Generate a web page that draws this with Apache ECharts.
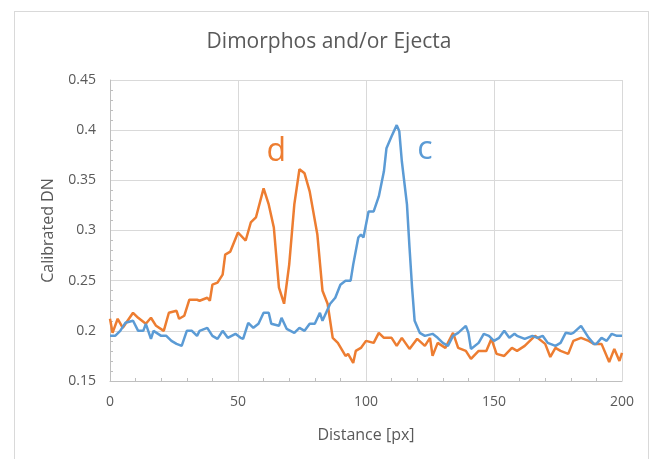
<!DOCTYPE html>
<html><head><meta charset="utf-8">
<script src="https://cdn.jsdelivr.net/npm/echarts@6/dist/echarts.min.js"></script>
<style>html,body{margin:0;padding:0;background:#fff}#c{width:658px;height:459px}
#frame{position:absolute;left:14px;top:11px;width:633px;height:460px;border:1px solid #d9d9d9;pointer-events:none}</style>
</head><body><div id="c"></div><div id="frame"></div>
<script>
const title = 'Dimorphos and/or Ejecta';
const xName = 'Distance [px]';
const yName = 'Calibrated DN';
const dX = [0,1,3,5,9,11,14,16,18,21,23,26,27,29,31,34,35,38,39,40,42,44,45,47,50,53,55,57,60,62,64,66,68,70,72,74,76,78,81,83,85,87,89,92,93,95,96,98,100,103,105,107,110,112,114,117,120,123,125,126,128,131,134,136,139,141,144,147,149,151,154,157,159,162,166,170,172,174,176,179,181,184,187,189,192,195,197,199,200];
const dY = [0.212,0.198,0.212,0.203,0.218,0.213,0.207,0.213,0.205,0.200,0.218,0.220,0.212,0.215,0.231,0.231,0.230,0.233,0.230,0.246,0.248,0.256,0.276,0.279,0.298,0.290,0.308,0.313,0.342,0.326,0.303,0.243,0.227,0.266,0.326,0.361,0.357,0.339,0.296,0.240,0.227,0.193,0.188,0.175,0.177,0.168,0.180,0.183,0.190,0.188,0.198,0.193,0.193,0.185,0.193,0.182,0.192,0.185,0.193,0.175,0.188,0.183,0.198,0.183,0.180,0.172,0.180,0.180,0.192,0.177,0.175,0.183,0.180,0.185,0.195,0.187,0.174,0.183,0.180,0.177,0.190,0.193,0.190,0.187,0.187,0.169,0.182,0.170,0.178];
const cX = [0,2,4,6,9,11,13,14,16,17,20,22,24,26,28,30,32,34,35,38,40,42,44,46,49,51,52,54,56,58,60,62,63,66,67,69,72,74,76,78,80,82,83,86,88,90,92,94,95,97,98,99,101,103,105,107,108,110,112,113,114,116,117,118,119,121,123,126,128,130,132,134,136,139,140,141,144,146,148,150,152,154,156,158,159,162,165,167,169,171,174,176,178,180,181,184,187,189,190,192,194,196,198,200];
const cY = [0.195,0.195,0.200,0.208,0.210,0.200,0.200,0.207,0.192,0.200,0.195,0.195,0.190,0.187,0.185,0.200,0.200,0.195,0.200,0.203,0.195,0.192,0.200,0.193,0.197,0.193,0.192,0.208,0.203,0.207,0.218,0.218,0.207,0.205,0.213,0.202,0.198,0.203,0.200,0.207,0.207,0.218,0.210,0.227,0.233,0.246,0.250,0.250,0.266,0.293,0.296,0.293,0.319,0.319,0.334,0.359,0.382,0.394,0.405,0.399,0.369,0.326,0.283,0.243,0.210,0.198,0.195,0.197,0.193,0.188,0.185,0.195,0.198,0.205,0.198,0.182,0.188,0.197,0.195,0.190,0.193,0.200,0.193,0.197,0.195,0.192,0.195,0.193,0.195,0.188,0.185,0.188,0.198,0.197,0.198,0.205,0.193,0.187,0.187,0.193,0.190,0.197,0.195,0.195];
const dLabel = {text:'d', x:65, y:0.378};
const cLabel = {text:'c', x:123, y:0.38};
const orange = '#ED7D31', blue = '#5B9BD5';
const font = "'Open Sans', 'Noto Sans', sans-serif";
const pairs = (xs, ys) => xs.map((x,i)=>[x, ys[i]]);
const chart = echarts.init(document.getElementById('c'));
const lbl = (o, col) => ({symbol:'circle', symbolSize:0, data:[{coord:[o.x,o.y], value:o.text}],
  label:{show:true, position:'inside', formatter:'{c}', color:col, fontSize:32, fontFamily:font}});
chart.setOption({
  animation:false,
  title:{text:title, left:'center', top:27, textStyle:{fontFamily:font, fontSize:21, fontWeight:'normal', color:'#595959'}},
  grid:{left:110, right:36, top:80, bottom:78},
  xAxis:{type:'value', min:0, max:200, interval:50, name:xName, nameLocation:'middle', nameGap:46,
    nameTextStyle:{fontFamily:font, fontSize:16, color:'#595959'},
    axisLine:{lineStyle:{color:'#bfbfbf'}}, axisTick:{show:false, inside:true},
    minorTick:{show:true, splitNumber:5, length:3, lineStyle:{color:'#bfbfbf'}},
    axisLabel:{fontFamily:font, fontSize:14, color:'#595959', margin:14},
    splitLine:{show:true, lineStyle:{color:'#d9d9d9'}}},
  yAxis:{type:'value', min:0.15, max:0.45, interval:0.05, name:yName, nameLocation:'middle', nameGap:54,
    nameTextStyle:{fontFamily:font, fontSize:16, color:'#595959'},
    axisLine:{show:true, lineStyle:{color:'#bfbfbf'}}, axisTick:{show:false, inside:true},
    minorTick:{show:true, splitNumber:5, length:3, lineStyle:{color:'#bfbfbf'}},
    axisLabel:{fontFamily:font, fontSize:14, color:'#595959', margin:14, formatter:v=>String(+v.toFixed(2))},
    splitLine:{show:true, lineStyle:{color:'#d9d9d9'}}},
  series:[
    {type:'line', data:pairs(dX,dY), showSymbol:false, lineStyle:{color:orange, width:2.5}, itemStyle:{color:orange}, markPoint:lbl(dLabel, orange)},
    {type:'line', data:pairs(cX,cY), showSymbol:false, lineStyle:{color:blue, width:2.5}, itemStyle:{color:blue}, markPoint:lbl(cLabel, blue)}
  ]
});
</script></body></html>
